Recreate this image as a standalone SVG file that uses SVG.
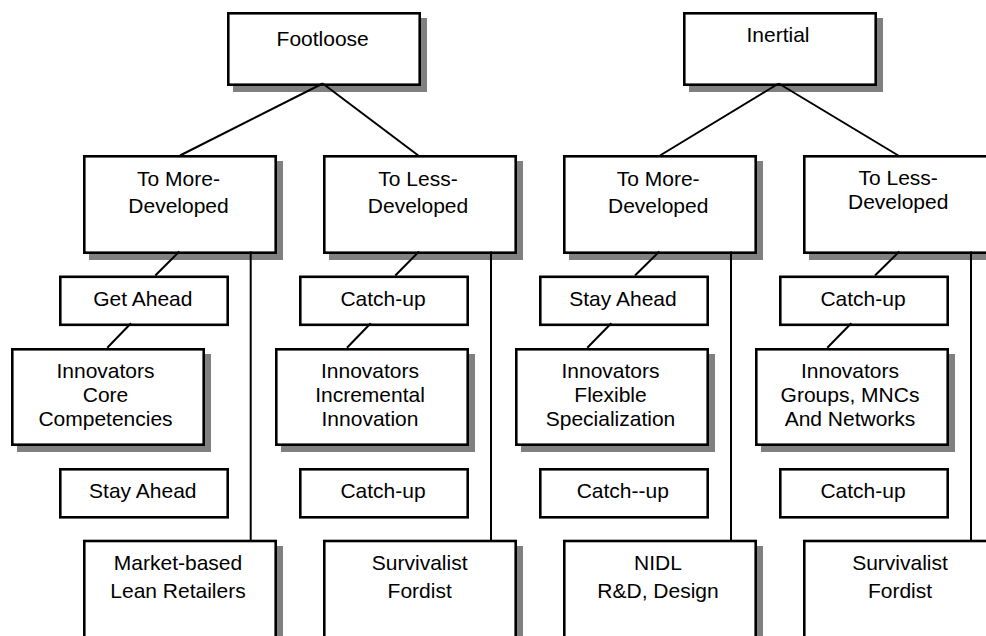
<svg xmlns="http://www.w3.org/2000/svg" width="986" height="636" viewBox="0 0 986 636">
<style>
  .box { fill: #ffffff; stroke: #000000; stroke-width: 2.6; }
  .sh { fill: #808080; }
  .t { font-family: "Liberation Sans", Arial, sans-serif; font-size: 21px; fill: #000000; text-anchor: middle; }
  .ln { stroke: #000000; stroke-width: 2; fill: none; }
</style>
<rect width="986" height="636" fill="#ffffff"/>
<g id="footloose">
  <rect class="sh" x="233" y="18" width="194" height="74"/>
  <rect class="box" x="228.3" y="13.3" width="191.4" height="71.4"/>
  <text class="t" x="322.7" y="45.7">Footloose</text>
</g>
<g id="inertial">
  <rect class="sh" x="689" y="18" width="194" height="74"/>
  <rect class="box" x="684.3" y="13.3" width="191.4" height="71.4"/>
  <text class="t" x="778" y="41.7">Inertial</text>
</g>
<g id="fl-more">
  <rect class="sh" x="89" y="161" width="194" height="99"/>
  <rect class="box" x="84.3" y="156.3" width="191.4" height="96.4"/>
  <text class="t" x="178.5" y="186">To More-</text>
  <text class="t" x="178.5" y="213">Developed</text>
</g>
<g id="fl-less">
  <rect class="sh" x="329" y="161" width="194" height="99"/>
  <rect class="box" x="324.3" y="156.3" width="191.4" height="96.4"/>
  <text class="t" x="418" y="186">To Less-</text>
  <text class="t" x="418" y="213">Developed</text>
</g>
<g id="in-more">
  <rect class="sh" x="569" y="161" width="194" height="99"/>
  <rect class="box" x="564.3" y="156.3" width="191.4" height="96.4"/>
  <text class="t" x="658.2" y="186">To More-</text>
  <text class="t" x="658.2" y="213">Developed</text>
</g>
<g id="in-less">
  <rect class="sh" x="809" y="161" width="194" height="99"/>
  <rect class="box" x="804.3" y="156.3" width="191.4" height="96.4"/>
  <text class="t" x="898.2" y="185.3">To Less-</text>
  <text class="t" x="898.2" y="209.3">Developed</text>
</g>
<g id="fl-get-ahead">
  <rect class="box" x="60.3" y="276.8" width="167.4" height="48"/>
  <text class="t" x="142.8" y="305.7">Get Ahead</text>
</g>
<g id="fl-catchup-1">
  <rect class="box" x="300.3" y="276.8" width="167.4" height="48"/>
  <text class="t" x="383" y="305.7">Catch-up</text>
</g>
<g id="in-stay-ahead">
  <rect class="box" x="540.3" y="276.8" width="167.4" height="48"/>
  <text class="t" x="623" y="305.7">Stay Ahead</text>
</g>
<g id="in-catchup-1">
  <rect class="box" x="780.3" y="276.8" width="167.4" height="48"/>
  <text class="t" x="863" y="305.7">Catch-up</text>
</g>
<g id="innov-core">
  <rect class="sh" x="17" y="354" width="194" height="98"/>
  <rect class="box" x="12.3" y="349.3" width="191.4" height="95.4"/>
  <text class="t" x="105.5" y="378">Innovators</text>
  <text class="t" x="105.5" y="402">Core</text>
  <text class="t" x="105.5" y="426">Competencies</text>
</g>
<g id="innov-incremental">
  <rect class="sh" x="281" y="354" width="194" height="98"/>
  <rect class="box" x="276.3" y="349.3" width="191.4" height="95.4"/>
  <text class="t" x="370" y="378">Innovators</text>
  <text class="t" x="370" y="402">Incremental</text>
  <text class="t" x="370" y="426">Innovation</text>
</g>
<g id="innov-flexible">
  <rect class="sh" x="521" y="354" width="194" height="98"/>
  <rect class="box" x="516.3" y="349.3" width="191.4" height="95.4"/>
  <text class="t" x="610.5" y="378">Innovators</text>
  <text class="t" x="610.5" y="402">Flexible</text>
  <text class="t" x="610.5" y="426">Specialization</text>
</g>
<g id="innov-groups">
  <rect class="sh" x="761" y="354" width="194" height="98"/>
  <rect class="box" x="756.3" y="349.3" width="191.4" height="95.4"/>
  <text class="t" x="850" y="378">Innovators</text>
  <text class="t" x="850" y="402">Groups, MNCs</text>
  <text class="t" x="850" y="426">And Networks</text>
</g>
<g id="fl-stay-ahead">
  <rect class="box" x="60.3" y="469.3" width="167.4" height="48"/>
  <text class="t" x="142.8" y="498">Stay Ahead</text>
</g>
<g id="fl-catchup-2">
  <rect class="box" x="300.3" y="469.3" width="167.4" height="48"/>
  <text class="t" x="383" y="498">Catch-up</text>
</g>
<g id="in-catchup-2">
  <rect class="box" x="540.3" y="469.3" width="167.4" height="48"/>
  <text class="t" x="622.8" y="498">Catch--up</text>
</g>
<g id="in-catchup-3">
  <rect class="box" x="780.3" y="469.3" width="167.4" height="48"/>
  <text class="t" x="863" y="498">Catch-up</text>
</g>
<g id="market-based">
  <rect class="sh" x="89" y="546" width="194" height="99"/>
  <rect class="box" x="84.3" y="541" width="191.4" height="96.4"/>
  <text class="t" x="178" y="570">Market-based</text>
  <text class="t" x="178" y="597.7">Lean Retailers</text>
</g>
<g id="fl-survivalist">
  <rect class="sh" x="329" y="546" width="194" height="99"/>
  <rect class="box" x="324.3" y="541" width="191.4" height="96.4"/>
  <text class="t" x="419.7" y="570">Survivalist</text>
  <text class="t" x="419.7" y="597.7">Fordist</text>
</g>
<g id="nidl">
  <rect class="sh" x="569" y="546" width="194" height="99"/>
  <rect class="box" x="564.3" y="541" width="191.4" height="96.4"/>
  <text class="t" x="658" y="570">NIDL</text>
  <text class="t" x="658" y="597.7">R&amp;D, Design</text>
</g>
<g id="in-survivalist">
  <rect class="sh" x="809" y="546" width="194" height="99"/>
  <rect class="box" x="804.3" y="541" width="191.4" height="96.4"/>
  <text class="t" x="900" y="570">Survivalist</text>
  <text class="t" x="900" y="597.7">Fordist</text>
</g>
<g id="connectors">
  <line class="ln" x1="322.7" y1="83.5" x2="180" y2="155.5"/>
  <line class="ln" x1="322.7" y1="83.5" x2="418.3" y2="155.5"/>
  <line class="ln" x1="778.7" y1="83.5" x2="660" y2="155.5"/>
  <line class="ln" x1="778.7" y1="83.5" x2="898.3" y2="155.5"/>
  <line class="ln" x1="179.3" y1="251.5" x2="155.3" y2="275.5"/>
  <line class="ln" x1="250.7" y1="251.5" x2="250.7" y2="540"/>
  <line class="ln" x1="419" y1="251.5" x2="395.3" y2="275.5"/>
  <line class="ln" x1="491" y1="251.5" x2="491" y2="540"/>
  <line class="ln" x1="659.3" y1="251.5" x2="635" y2="275.5"/>
  <line class="ln" x1="731" y1="251.5" x2="731" y2="540"/>
  <line class="ln" x1="899.3" y1="251.5" x2="875" y2="275.5"/>
  <line class="ln" x1="971" y1="251.5" x2="971" y2="540"/>
  <line class="ln" x1="131" y1="323.3" x2="107.3" y2="347.7"/>
  <line class="ln" x1="370.7" y1="323.3" x2="347" y2="347.7"/>
  <line class="ln" x1="611.3" y1="323.3" x2="587.3" y2="347.7"/>
  <line class="ln" x1="851.3" y1="323.3" x2="827.3" y2="347.7"/>
</g>
</svg>
